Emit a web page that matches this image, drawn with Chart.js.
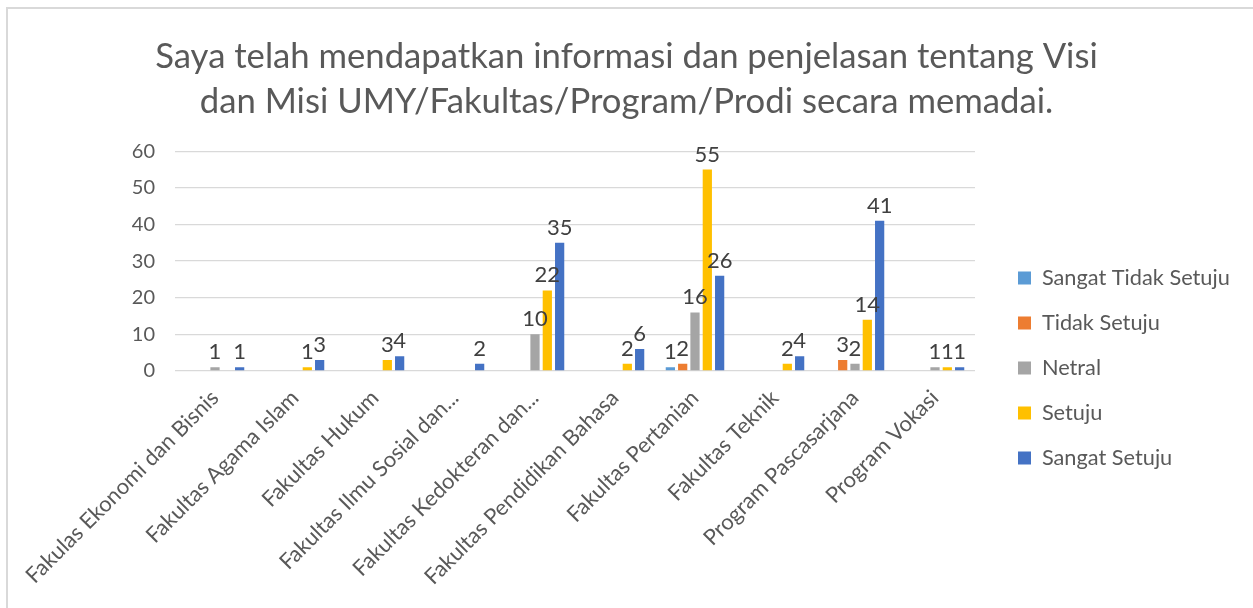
<!DOCTYPE html>
<html>
<head>
<meta charset="utf-8">
<script src="https://cdn.jsdelivr.net/npm/chart.js@4.4.1/dist/chart.umd.min.js"></script>
<style>
html, body { margin: 0; padding: 0; background: #fff; overflow: hidden; }
#wrap { position: relative; width: 1253px; height: 608px; }
#frame { position: absolute; left: 6px; top: 7px; width: 1400px; height: 800px;
         border-left: 2px solid #d9d9d9; border-top: 2px solid #d9d9d9; pointer-events: none; }
#c { position: absolute; left: 0; top: 0; }
</style>
</head>
<body>
<div id="wrap">
  <canvas id="c" width="1253" height="608"></canvas>
  <div id="frame"></div>
</div>
<script>
// ---- data ----
const categories = [
    'Fakulas Ekonomi dan Bisnis',
    'Fakultas Agama Islam',
    'Fakultas Hukum',
    'Fakultas Ilmu Sosial dan...',
    'Fakultas Kedokteran dan...',
    'Fakultas Pendidikan Bahasa',
    'Fakultas Pertanian',
    'Fakultas Teknik',
    'Program Pascasarjana',
    'Program Vokasi'
];
const seriesNames = ['Sangat Tidak Setuju', 'Tidak Setuju', 'Netral', 'Setuju', 'Sangat Setuju'];
const sangatTidakSetuju = [0, 0, 0, 0, 0, 0, 1, 0, 0, 0];
const tidakSetuju       = [0, 0, 0, 0, 0, 0, 2, 0, 3, 0];
const netral            = [1, 0, 0, 0, 10, 0, 16, 0, 2, 1];
const setuju            = [0, 1, 3, 0, 22, 2, 55, 2, 14, 1];
const sangatSetuju      = [1, 3, 4, 2, 35, 6, 26, 4, 41, 1];
const yTicks = [0, 10, 20, 30, 40, 50, 60];
const titleLines = [
    'Saya telah mendapatkan informasi dan penjelasan tentang Visi',
    'dan Misi UMY/Fakultas/Program/Prodi secara memadai.'
];

const colors = ['#5b9bd5', '#ed7d31', '#a5a5a5', '#ffc000', '#4472c4'];
const FONT = 'Lato';
const TEXT = '#595959';

// fit font sizes to the widths seen in the reference
function fitSize(text, target) {
    const m = document.createElement('canvas').getContext('2d');
    m.font = '100px ' + FONT;
    return 100 * target / m.measureText(text).width;
}
const titleSize = fitSize(titleLines[0], 943);
const xTickSize = fitSize(categories[0], 262);
const legendSize = fitSize(seriesNames[0], 188);

// ---- layout (chart area) ----
const AREA_RIGHT = 975, AREA_LEFT = 175, AREA_BOTTOM = 371;
const LEGEND_X = 1018, LEGEND_Y = 278, LEGEND_STEP = 45;
const LEGEND_PAD = LEGEND_STEP - legendSize;

// value labels above bars
const valueLabels = {
    id: 'valueLabels',
    afterDatasetsDraw(chart) {
        const ctx = chart.ctx;
        ctx.save();
        ctx.font = '22px ' + FONT;
        ctx.fillStyle = '#404040';
        ctx.textAlign = 'center';
        ctx.textBaseline = 'bottom';
        chart.data.datasets.forEach((ds, i) => {
            chart.getDatasetMeta(i).data.forEach((bar, j) => {
                const v = ds.data[j];
                if (!v) return;
                ctx.fillText(v, bar.x, bar.y - 4);
            });
        });
        ctx.restore();
    }
};

// legend box placement
const legendPlace = {
    id: 'legendPlace',
    beforeInit(chart) {
        const fit = chart.legend.fit;
        chart.legend.fit = function () {
            fit.call(this);
            this.width = chart.width - AREA_RIGHT;
        };
    },
    beforeDraw(chart) {
        const lg = chart.legend;
        const h = lg.bottom - lg.top;
        lg.left = LEGEND_X - LEGEND_PAD;
        lg.top = LEGEND_Y - LEGEND_PAD - legendSize / 2;
        lg.bottom = lg.top + h;
    }
};

const datasets = [sangatTidakSetuju, tidakSetuju, netral, setuju, sangatSetuju].map((d, i) => ({
    label: seriesNames[i],
    data: d,
    backgroundColor: colors[i],
    categoryPercentage: 0.77,
    barPercentage: 0.75
}));

new Chart(document.getElementById('c'), {
    type: 'bar',
    data: { labels: categories, datasets: datasets },
    options: {
        responsive: false,
        animation: false,
        layout: { padding: 0 },
        plugins: {
            title: {
                display: true,
                text: titleLines,
                color: TEXT,
                font: { family: FONT, size: titleSize, weight: 'normal', lineHeight: 1.3 },
                padding: { top: 34, bottom: 27 }
            },
            legend: {
                position: 'right',
                align: 'start',
                labels: {
                    boxWidth: 13, boxHeight: 13, padding: LEGEND_PAD,
                    color: TEXT, font: { family: FONT, size: legendSize }
                }
            },
            tooltip: { enabled: false }
        },
        scales: {
            x: {
                grid: { display: false },
                border: { display: false },
                ticks: {
                    color: TEXT, font: { family: FONT, size: xTickSize },
                    minRotation: 45, maxRotation: 45, autoSkip: false, padding: 6
                },
                afterFit(s) { s.height = 608 - AREA_BOTTOM; }
            },
            y: {
                min: yTicks[0],
                max: yTicks[yTicks.length - 1],
                ticks: { stepSize: 10, color: TEXT, font: { family: FONT, size: 20 }, padding: 20 },
                grid: { color: '#d9d9d9', lineWidth: 1.3, drawTicks: false },
                border: { display: false },
                afterFit(s) { s.width = AREA_LEFT; }
            }
        }
    },
    plugins: [valueLabels, legendPlace]
});
</script>
</body>
</html>
